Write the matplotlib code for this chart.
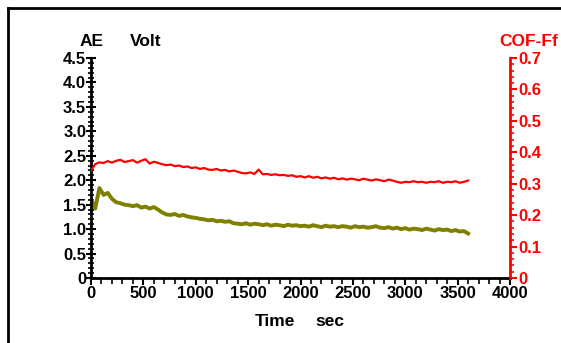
import matplotlib
matplotlib.use("Agg")
import matplotlib.pyplot as plt
import numpy as np
from matplotlib.lines import Line2D
from matplotlib.ticker import MultipleLocator

plt.rcParams.update({"font.family": ["Liberation Sans", "DejaVu Sans"],
                     "font.weight": "bold",
                     "font.size": 12})

# time grid (sec), one reading every 40 s
time_s = np.arange(0, 3601, 40)

# AE signal (Volt), left axis
ae_volt = [1.62, 1.42, 1.84, 1.70, 1.74, 1.62, 1.55, 1.53, 1.50, 1.49,
           1.47, 1.49, 1.44, 1.46, 1.42, 1.45, 1.40, 1.34, 1.30, 1.29,
           1.31, 1.27, 1.29, 1.26, 1.24, 1.23, 1.21, 1.20, 1.18, 1.19,
           1.16, 1.17, 1.15, 1.16, 1.12, 1.11, 1.10, 1.12, 1.09, 1.11,
           1.10, 1.08, 1.10, 1.07, 1.09, 1.08, 1.06, 1.09, 1.07, 1.08,
           1.06, 1.07, 1.05, 1.08, 1.06, 1.04, 1.07, 1.05, 1.06, 1.04,
           1.06, 1.05, 1.03, 1.06, 1.04, 1.05, 1.03, 1.04, 1.06, 1.03,
           1.02, 1.04, 1.01, 1.03, 1.00, 1.02, 0.99, 1.01, 1.00, 0.98,
           1.01, 0.99, 0.97, 1.00, 0.98, 0.99, 0.96, 0.98, 0.95, 0.96,
           0.91]

# friction coefficient, right axis
cof = [0.342, 0.362, 0.368, 0.366, 0.372, 0.367, 0.373, 0.376, 0.369, 0.372,
       0.375, 0.367, 0.373, 0.378, 0.364, 0.370, 0.366, 0.362, 0.359, 0.361,
       0.356, 0.358, 0.353, 0.355, 0.350, 0.352, 0.347, 0.350, 0.345, 0.344,
       0.347, 0.342, 0.344, 0.339, 0.342, 0.338, 0.334, 0.333, 0.336, 0.331,
       0.345, 0.330, 0.331, 0.328, 0.330, 0.327, 0.328, 0.325, 0.327, 0.322,
       0.324, 0.320, 0.324, 0.319, 0.322, 0.317, 0.320, 0.316, 0.319, 0.314,
       0.317, 0.313, 0.316, 0.314, 0.311, 0.316, 0.313, 0.310, 0.314, 0.311,
       0.308, 0.313, 0.310, 0.306, 0.303, 0.306, 0.305, 0.308, 0.305, 0.306,
       0.303, 0.306, 0.305, 0.308, 0.303, 0.306, 0.305, 0.308, 0.303, 0.306,
       0.310]

assert len(time_s) == len(ae_volt) == len(cof)

W, H = 561, 343
fig = plt.figure(figsize=(W / 100, H / 100), dpi=100)
ax = fig.add_axes([91 / W, 1 - 278 / H, (510 - 91) / W, (278 - 58) / H])
ax2 = ax.twinx()

# 外框
fig.add_artist(Line2D([7.5 / W, 1.0], [1 - 8 / H, 1 - 8 / H],
                      transform=fig.transFigure, color="black", lw=2))
fig.add_artist(Line2D([7.5 / W, 7.5 / W], [0.0, 1 - 8 / H],
                      transform=fig.transFigure, color="black", lw=2))

ax.plot(time_s, ae_volt, color="#808000", lw=2.8, zorder=2)
ax2.plot(time_s, cof, color="#ff0000", lw=1.6, zorder=2)

# left axis
ax.set_xlim(0, 4000)
ax.set_ylim(0, 4.5)
ax.xaxis.set_major_locator(MultipleLocator(500))
ax.xaxis.set_minor_locator(MultipleLocator(100))
ax.yaxis.set_minor_locator(MultipleLocator(0.1))
ax.set_yticks(np.arange(0, 4.51, 0.5),
              ["0"] + [f"{v:.1f}" for v in np.arange(0.5, 4.51, 0.5)])
ax.tick_params(axis="y", which="major", direction="inout", length=7,
               width=1.5, pad=0, labelsize=12)
ax.tick_params(axis="y", which="minor", direction="inout", length=5, width=1.2)
ax.tick_params(axis="x", which="major", direction="out", length=5,
               width=1.5, pad=1, labelsize=12)
ax.tick_params(axis="x", which="minor", direction="out", length=4, width=1.2)
for s in ["top", "right"]:
    ax.spines[s].set_visible(False)
ax.spines["left"].set_linewidth(2)
ax.spines["bottom"].set_linewidth(2)

# right axis
ax2.set_ylim(0, 0.7)
ax2.yaxis.set_minor_locator(MultipleLocator(0.02))
ax2.set_yticks(np.arange(0, 0.71, 0.1),
               ["0"] + [f"{v:.1f}" for v in np.arange(0.1, 0.71, 0.1)])
ax2.tick_params(axis="y", which="major", direction="out", length=5,
                width=1.5, pad=1, labelsize=12, colors="#ff0000")
ax2.tick_params(axis="y", which="minor", direction="out", length=3,
                width=1.2, colors="#ff0000")
for s in ["top", "left", "bottom"]:
    ax2.spines[s].set_visible(False)
ax2.spines["right"].set_color("#ff0000")
ax2.spines["right"].set_linewidth(2)

# 标题
fig.text(80 / W, 1 - 42 / H, "AE", fontsize=12.5, fontweight="bold",
         ha="left", va="center")
fig.text(130 / W, 1 - 42 / H, "Volt", fontsize=12.5, fontweight="bold",
         ha="left", va="center")
fig.text(499 / W, 1 - 42 / H, "COF-Ff", fontsize=12.5, fontweight="bold",
         color="#ff0000", ha="left", va="center")
fig.text(255 / W, 1 - 322 / H, "Time", fontsize=12.5, fontweight="bold",
         ha="left", va="center")
fig.text(315 / W, 1 - 322 / H, "sec", fontsize=12.5, fontweight="bold",
         ha="left", va="center")

fig.savefig("out.png", dpi=100)
